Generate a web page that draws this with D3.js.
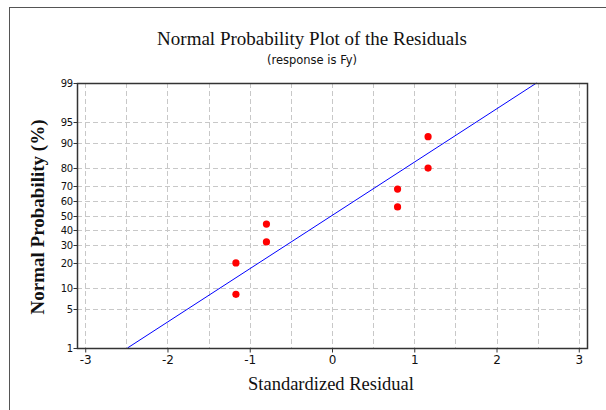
<!DOCTYPE html>
<html lang="en">
<head>
<meta charset="utf-8">
<title>Normal Probability Plot</title>
<script src="https://cdn.jsdelivr.net/npm/d3@7"></script>
<style>
body { margin: 0; background: #fff; }
.tick text { font-family: "DejaVu Sans", Verdana, sans-serif; fill: #111; }
.axis path { display: none; }
.axis line { stroke: #333; }
</style>
</head>
<body>
<script>
// residuals (standardized) and their plotting percents
var residuals = [-1.168, -1.168, -0.797, -0.797, 0.797, 0.797, 1.168, 1.168];
var percents  = [8.33, 20.24, 32.14, 44.05, 55.95, 67.86, 79.76, 91.67];
var yTicks = [1, 5, 10, 20, 30, 40, 50, 60, 70, 80, 90, 95, 99];
var xTicks = [-3, -2, -1, 0, 1, 2, 3];
var xGrid = [-3, -2.5, -2, -1.5, -1, -0.5, 0, 0.5, 1, 1.5, 2, 2.5, 3];

var w = 606, h = 410;
var pLeft = 77, pRight = 587, pTop = 83, pBottom = 348;

// inverse normal cdf (Acklam)
function qnorm(p) {
  var a = [-3.969683028665376e+01, 2.209460984245205e+02, -2.759285104469687e+02, 1.383577518672690e+02, -3.066479806614716e+01, 2.506628277459239e+00];
  var b = [-5.447609879822406e+01, 1.615858368580409e+02, -1.556989798598866e+02, 6.680131188771972e+01, -1.328068155288572e+01];
  var c = [-7.784894002430293e-03, -3.223964580411365e-01, -2.400758277161838e+00, -2.549732539343734e+00, 4.374664141464968e+00, 2.938163982698783e+00];
  var d = [7.784695709041462e-03, 3.224671290700398e-01, 2.445134137142996e+00, 3.754408661907416e+00];
  var pl = 0.02425, q, r;
  if (p < pl) {
    q = Math.sqrt(-2 * Math.log(p));
    return (((((c[0]*q+c[1])*q+c[2])*q+c[3])*q+c[4])*q+c[5]) / ((((d[0]*q+d[1])*q+d[2])*q+d[3])*q+1);
  }
  if (p > 1 - pl) {
    q = Math.sqrt(-2 * Math.log(1 - p));
    return -(((((c[0]*q+c[1])*q+c[2])*q+c[3])*q+c[4])*q+c[5]) / ((((d[0]*q+d[1])*q+d[2])*q+d[3])*q+1);
  }
  q = p - 0.5; r = q * q;
  return (((((a[0]*r+a[1])*r+a[2])*r+a[3])*r+a[4])*r+a[5])*q / (((((b[0]*r+b[1])*r+b[2])*r+b[3])*r+b[4])*r+1);
}

var xScale = d3.scaleLinear().domain([-3.1, 3.1]).range([pLeft, pRight]);
var zScale = d3.scaleLinear().domain([qnorm(0.01), qnorm(0.99)]).range([pBottom, pTop]);
function yPos(pct) { return zScale(qnorm(pct / 100)); }

var svg = d3.select("body").append("svg")
    .attr("width", w)
    .attr("height", h);

// outer frame
svg.append("rect")
   .attr("x", 9.5).attr("y", 7.5)
   .attr("width", 700).attr("height", 600)
   .attr("fill", "none")
   .attr("stroke", "#555");

// grid
svg.selectAll(".vgrid")
   .data(xGrid)
   .enter()
   .append("line")
   .attr("x1", function(d) { return Math.round(xScale(d)) + 0.5; })
   .attr("x2", function(d) { return Math.round(xScale(d)) + 0.5; })
   .attr("y1", pTop).attr("y2", pBottom)
   .attr("stroke", "#c8c8c8")
   .attr("stroke-dasharray", "5,3");

svg.selectAll(".hgrid")
   .data(yTicks.slice(1, -1))
   .enter()
   .append("line")
   .attr("x1", pLeft).attr("x2", pRight)
   .attr("y1", function(d) { return Math.round(yPos(d)) + 0.5; })
   .attr("y2", function(d) { return Math.round(yPos(d)) + 0.5; })
   .attr("stroke", "#c8c8c8")
   .attr("stroke-dasharray", "5,3");

// fitted line from mean and sd of the residuals
var mu = d3.mean(residuals);
var sd = d3.deviation(residuals);
var fitLine = d3.line()
    .x(function(p) { return xScale(mu + sd * qnorm(p)); })
    .y(function(p) { return zScale(qnorm(p)); });
svg.append("path")
   .datum([0.01, 0.99])
   .attr("d", fitLine)
   .attr("fill", "none")
   .attr("stroke", "#0000ff")
   .attr("stroke-width", 1);

// points
svg.selectAll("circle")
   .data(residuals)
   .enter()
   .append("circle")
   .attr("cx", function(d) { return xScale(d); })
   .attr("cy", function(d, i) { return yPos(percents[i]); })
   .attr("r", 3.6)
   .attr("fill", "#ff0000");

// plot border
svg.append("rect")
   .attr("x", pLeft + 0.5).attr("y", pTop + 0.5)
   .attr("width", pRight - pLeft).attr("height", pBottom - pTop)
   .attr("fill", "none")
   .attr("stroke", "#333")
   .attr("stroke-width", 1.5);

// axes
var xAxis = d3.axisBottom(xScale).tickValues(xTicks).tickSizeOuter(0).tickSize(4).tickPadding(3)
    .tickFormat(function(d) { return d; });
svg.append("g")
   .attr("class", "axis")
   .attr("transform", "translate(0," + (pBottom + 0.5) + ")")
   .call(xAxis)
   .selectAll("text").attr("font-size", "12px");

var yg = svg.append("g").attr("class", "axis").attr("transform", "translate(" + (pLeft + 0.5) + ",0)");
var yt = yg.selectAll(".ytick")
   .data(yTicks)
   .enter()
   .append("g")
   .attr("class", "tick")
   .attr("transform", function(d) { return "translate(0," + (Math.round(yPos(d)) + 0.5) + ")"; });
yt.append("line").attr("x1", -4).attr("x2", 0).attr("stroke", "#333");
yt.append("text")
   .attr("x", -5)
   .attr("dy", "0.35em")
   .attr("text-anchor", "end")
   .attr("font-size", "10px")
   .attr("letter-spacing", "-0.5px")
   .text(function(d) { return d; });

// titles
svg.append("text")
   .attr("x", 312).attr("y", 45)
   .attr("text-anchor", "middle")
   .attr("font-family", "Liberation Serif, Times New Roman, serif")
   .attr("font-size", "19px")
   .attr("fill", "#111")
   .text("Normal Probability Plot of the Residuals");

svg.append("text")
   .attr("x", 312).attr("y", 64)
   .attr("text-anchor", "middle")
   .attr("font-family", "DejaVu Sans, Verdana, sans-serif")
   .attr("font-size", "11.5px")
   .attr("fill", "#111")
   .text("(response is Fy)");

svg.append("text")
   .attr("x", 331).attr("y", 390)
   .attr("text-anchor", "middle")
   .attr("font-family", "Liberation Serif, Times New Roman, serif")
   .attr("font-size", "18.5px")
   .attr("fill", "#111")
   .text("Standardized Residual");

svg.append("text")
   .attr("transform", "translate(44,217) rotate(-90)")
   .attr("text-anchor", "middle")
   .attr("font-family", "Liberation Serif, Times New Roman, serif")
   .attr("font-size", "19px")
   .attr("font-weight", "bold")
   .attr("fill", "#111")
   .text("Normal Probability (%)");
</script>
</body>
</html>
